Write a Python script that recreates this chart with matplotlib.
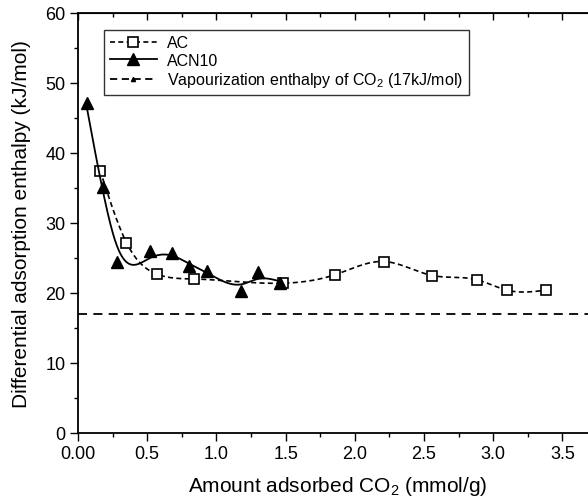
import numpy as np
import matplotlib.pyplot as plt
from matplotlib.lines import Line2D

plt.rcParams['font.family'] = ['Liberation Sans', 'DejaVu Sans']
plt.rcParams['mathtext.fontset'] = 'custom'
plt.rcParams['mathtext.rm'] = 'Liberation Sans'
plt.rcParams['mathtext.default'] = 'regular'

# datos
ac_x = [0.16, 0.35, 0.57, 0.84, 1.48, 1.855, 2.21, 2.56, 2.88, 3.10, 3.38]
ac_y = [37.5, 27.2, 22.7, 22.0, 21.4, 22.6, 24.5, 22.5, 21.9, 20.4, 20.4]

acn_x = [0.063, 0.183, 0.279, 0.52, 0.676, 0.80, 0.93, 1.18, 1.30, 1.46]
acn_y = [47.2, 35.1, 24.4, 26.0, 25.7, 23.8, 23.2, 20.3, 23.0, 21.4]

vap_enthalpy = 17


def smooth(x, y, lam, n=400):
    # suavizado tipo spline sobre una malla fina
    x = np.asarray(x)
    y = np.asarray(y)
    grid = np.linspace(x.min(), x.max(), n)
    W = np.zeros((len(x), n))
    for i, xi in enumerate(x):
        j = min(np.searchsorted(grid, xi), n - 1)
        j = max(j, 1)
        t = (xi - grid[j - 1]) / (grid[j] - grid[j - 1])
        W[i, j - 1] = 1 - t
        W[i, j] = t
    D = np.diff(np.eye(n), 2, axis=0)
    f = np.linalg.solve(W.T @ W + lam * D.T @ D, W.T @ y)
    return grid, f


fig = plt.figure(figsize=(5.88, 5.02), dpi=100)
ax = fig.add_axes([78 / 588, 68 / 502, 519 / 588, 420 / 502])

gx, gy = smooth(ac_x, ac_y, 0.5)
ax.plot(gx, gy, color='black', lw=1.2, ls=(0, (3, 2)))
ax.plot(ac_x, ac_y, ls='none', marker='s', ms=6.5, mfc='white', mec='black', mew=1.2)

gx, gy = smooth(acn_x, acn_y, 8000)
ax.plot(gx, gy, color='black', lw=1.3)
ax.plot(acn_x, acn_y, ls='none', marker='^', ms=8.5, color='black')

ax.axhline(vap_enthalpy, color='black', lw=1.3, ls=(0, (5, 3.5)))

ax.set_xlim(0, 3.75)
ax.set_ylim(0, 60)
ax.set_xticks(np.arange(0, 3.6, 0.5))
ax.set_xticklabels(['0.00', '0.5', '1.0', '1.5', '2.0', '2.5', '3.0', '3.5'])
ax.set_xticks(np.arange(0.25, 3.8, 0.5), minor=True)
ax.set_yticks(np.arange(0, 61, 10))
ax.set_yticks(np.arange(5, 60, 10), minor=True)
ax.tick_params(which='major', direction='out', length=5.5, width=1, labelsize=13)
ax.tick_params(which='minor', direction='out', length=3.2, width=1)
for s in ax.spines.values():
    s.set_linewidth(1.3)

top = ax.secondary_xaxis('top')
top.set_xticks(np.arange(0, 3.6, 0.5))
top.set_xticks(np.arange(0.25, 3.8, 0.5), minor=True)
top.tick_params(which='major', direction='in', length=5, width=1, labeltop=False)
top.tick_params(which='minor', direction='in', length=3, width=1)
right = ax.secondary_yaxis('right')
right.set_yticks(np.arange(0, 61, 10))
right.set_yticks(np.arange(5, 60, 10), minor=True)
right.tick_params(which='major', direction='in', length=6, width=1, labelright=False)
right.tick_params(which='minor', direction='in', length=3, width=1)

ax.set_xlabel('Amount adsorbed CO$_2$ (mmol/g)', fontsize=15, va='center')
ax.xaxis.set_label_coords(0.5, -0.126)
ax.set_ylabel('Differential adsorption enthalpy (kJ/mol)', fontsize=15, va='center')
ax.yaxis.set_label_coords(-0.108, 0.5)

handles = [
    Line2D([], [], color='black', lw=1.2, ls=(0, (3, 2)), marker='s', ms=6.5,
           mfc='white', mec='black', mew=1.2),
    Line2D([], [], color='black', lw=1.3, marker='^', ms=8.5),
    Line2D([], [], color='black', lw=1.3, ls=(0, (4, 2.5)), marker='^', ms=3),
]
labels = ['AC', 'ACN10', 'Vapourization enthalpy of CO$_2$ (17kJ/mol)']
leg = ax.legend(handles, labels, loc='upper left', bbox_to_anchor=(0.05, 0.96),
                fontsize=11.5, frameon=True, fancybox=False, edgecolor='black',
                handlelength=3.0, handletextpad=0.6, labelspacing=0.15,
                borderpad=0.35, borderaxespad=0)
leg.get_frame().set_linewidth(1.0)

fig.savefig('out.png', dpi=100)
